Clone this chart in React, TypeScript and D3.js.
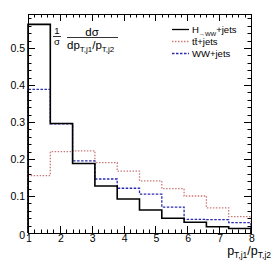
import * as d3 from "d3";

// bin edges of p_T,j1 / p_T,j2
const binEdges = [1, 1.7, 2.4, 3.1, 3.8, 4.5, 5.2, 5.9, 6.6, 7.3, 8];
const hWW = [0.564, 0.296, 0.188, 0.127, 0.092, 0.062, 0.04, 0.029, 0.017, 0.012];
const ttbar = [0.155, 0.22, 0.222, 0.19, 0.167, 0.141, 0.12, 0.1, 0.068, 0.044];
const wwJets = [0.388, 0.295, 0.195, 0.146, 0.121, 0.105, 0.07, 0.037, 0.036, 0.028];
const xTicks = [1, 2, 3, 4, 5, 6, 7, 8];
const yTicks = [0, 0.1, 0.2, 0.3, 0.4, 0.5];

const W = 279, H = 271;
const margin = { top: 14, right: 28, bottom: 38, left: 28 };

function stepPath(values: number[], x: d3.ScaleLinear<number, number>, y: d3.ScaleLinear<number, number>) {
    const p = d3.path();
    p.moveTo(x(binEdges[0]), y(0));
    values.forEach((v, i) => {
        p.lineTo(x(binEdges[i]), y(v));
        p.lineTo(x(binEdges[i + 1]), y(v));
    });
    p.lineTo(x(binEdges[binEdges.length - 1]), y(0));
    return p.toString();
}

export default function App() {
    const x = d3.scaleLinear().domain([1, 8]).range([margin.left, W - margin.right]);
    const y = d3.scaleLinear().domain([0, 0.592]).range([H - margin.bottom, margin.top]);
    const [x0, x1] = x.range();
    const [y0, y1] = y.range();

    const xMinor = d3.range(1, 8.001, 0.2);
    const yMinor = d3.range(0, 0.59, 0.02);
    const isMajorX = (v: number) => Math.abs(v - Math.round(v)) < 1e-6;
    const isMajorY = (v: number) => Math.abs(v * 10 - Math.round(v * 10)) < 1e-6;

    const font = "'Liberation Sans', Arial, sans-serif";
    const red = "#c97a7a", blue = "#2a2ab0";
    const series = [
        { name: "ttbar", values: ttbar, color: red, dash: "1.5,1.5", width: 1.3 },
        { name: "ww", values: wwJets, color: blue, dash: "2.5,1.5", width: 1.3 },
        { name: "h", values: hWW, color: "#000", dash: "none", width: 1.6 },
    ];

    return (
        <svg width={W} height={H} style={{ position: "absolute", left: 0, top: 0, fontFamily: font }}>
            <rect width={W} height={H} fill="#fff" />
            {series.map(s => (
                <path key={s.name} d={stepPath(s.values, x, y)} fill="none"
                    stroke={s.color} strokeWidth={s.width} strokeDasharray={s.dash} />
            ))}
            {/* frame */}
            <rect x={x0 + 0.5} y={y1 + 0.5} width={x1 - x0} height={y0 - y1}
                fill="none" stroke="#000" strokeWidth={1} />
            {xMinor.map((v, i) => {
                const len = isMajorX(v) ? 7 : 3.5;
                const px = Math.round(x(v)) + 0.5;
                return (
                    <g key={"xt" + i} stroke="#000" strokeWidth={1}>
                        <line x1={px} x2={px} y1={y0} y2={y0 - len} />
                        <line x1={px} x2={px} y1={y1} y2={y1 + len} />
                    </g>
                );
            })}
            {yMinor.map((v, i) => {
                const len = isMajorY(v) ? 7 : 3.5;
                const py = Math.round(y(v)) + 0.5;
                return (
                    <g key={"yt" + i} stroke="#000" strokeWidth={1}>
                        <line x1={x0} x2={x0 + len} y1={py} y2={py} />
                        <line x1={x1} x2={x1 - len} y1={py} y2={py} />
                    </g>
                );
            })}
            {xTicks.map(v => (
                <text key={"xl" + v} x={x(v) + 1} y={242} fontSize={10.5} textAnchor="middle">{v}</text>
            ))}
            {yTicks.map(v => (
                <text key={"yl" + v} x={25} y={v === 0 ? 239 : y(v) + 3.8} fontSize={10.5} textAnchor="end">
                    {v === 0 ? "0" : d3.format(".1f")(v)}
                </text>
            ))}
            {/* y title */}
            <g fontSize={11.5}>
                <text x={57} y={34} textAnchor="middle" fontSize={9.5}>1</text>
                <line x1={53} x2={61} y1={36.5} y2={36.5} stroke="#000" strokeWidth={0.8} />
                <text x={57} y={45} textAnchor="middle" fontSize={9.5}>σ</text>
                <text x={92} y={35.5} textAnchor="middle">dσ</text>
                <line x1={67} x2={118} y1={37.5} y2={37.5} stroke="#000" strokeWidth={0.8} />
                <text x={67} y={48.5}>dp<tspan fontSize={8} dy={3}>T,j1</tspan><tspan dy={-3}>/p</tspan><tspan fontSize={8} dy={3}>T,j2</tspan></text>
            </g>
            {/* x title */}
            <text x={271} y={255} fontSize={12.5} textAnchor="end">p<tspan fontSize={8.5} dy={3}>T,j1</tspan><tspan dy={-3}>/p</tspan><tspan fontSize={8.5} dy={3}>T,j2</tspan></text>
            {/* legend */}
            <g fontSize={9.5}>
                <line x1={172} x2={189} y1={29.5} y2={29.5} stroke="#000" strokeWidth={1.3} />
                <text x={192} y={33}>H<tspan fontSize={6} dy={2.5}>→WW</tspan><tspan dy={-2.5}>+jets</tspan></text>
                <line x1={172} x2={189} y1={41.5} y2={41.5} stroke={red} strokeWidth={1.3} strokeDasharray="1.5,1.5" />
                <text x={192} y={45}>t{"t\u0304"}+jets</text>
                <line x1={172} x2={189} y1={53.5} y2={53.5} stroke={blue} strokeWidth={1.3} strokeDasharray="2.5,1.5" />
                <text x={192} y={57}>WW+jets</text>
            </g>
        </svg>
    );
}
